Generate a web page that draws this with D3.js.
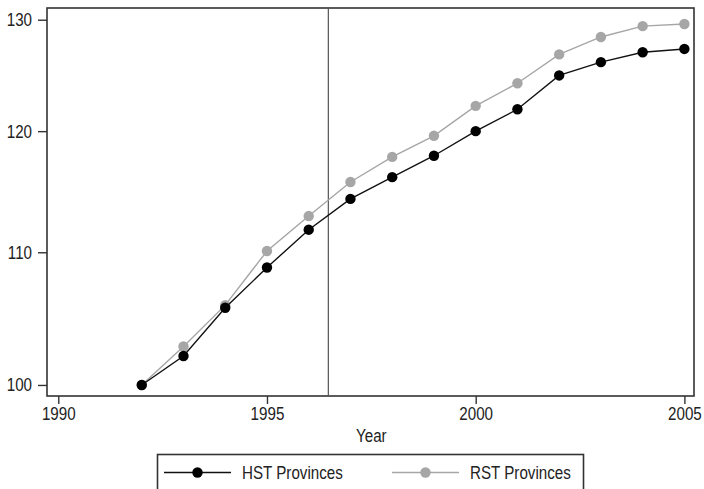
<!DOCTYPE html>
<html lang="en">
<head>
<meta charset="utf-8">
<title>HST vs RST Provinces</title>
<script src="https://d3js.org/d3.v7.min.js"></script>
<style>
  body { margin: 0; background: #fff; }
  svg text { font-family: "Liberation Sans", Arial, sans-serif; fill: #222; }
  .axis path, .axis line { stroke: #333; }
</style>
</head>
<body>
<div id="chart"></div>
<script>
// values (index, 1992 = 100)
var years = [1992, 1993, 1994, 1995, 1996, 1997, 1998, 1999, 2000, 2001, 2002, 2003, 2004, 2005];
var hst = [100, 102.1, 105.7, 108.8, 111.8, 114.3, 116.1, 117.9, 120.0, 121.9, 124.9, 126.1, 127.0, 127.3];
var rst = [100, 102.8, 105.9, 110.1, 112.9, 115.7, 117.8, 119.6, 122.2, 124.2, 126.8, 128.4, 129.4, 129.6];
var xTicks = [1990, 1995, 2000, 2005];
var yTicks = [100, 110, 120, 130];
var markYear = 1996.47;
var seriesNames = ["HST Provinces", "RST Provinces"];

var W = 704, H = 489;
var frame = { left: 47, top: 8, right: 694, bottom: 396 };
var fs = "18.5px";

// the original type is a narrow grotesque: squeeze Liberation Sans horizontally
function narrow(sel) {
  sel.each(function() {
    var t = d3.select(this);
    var tx = +t.attr("x") || 0;
    t.attr("x", 0).attr("transform", "translate(" + tx + ",0) scale(0.82,1)");
  });
}

var svg = d3.select("#chart").append("svg")
    .attr("width", W).attr("height", H);

var x = d3.scaleLinear().domain([1989.73, 2005.23]).range([frame.left, frame.right]);
var y = d3.scaleLog().domain([99.21, 131.1]).range([frame.bottom, frame.top]);

// frame
svg.append("rect")
    .attr("x", frame.left).attr("y", frame.top)
    .attr("width", frame.right - frame.left)
    .attr("height", frame.bottom - frame.top)
    .attr("fill", "none").attr("stroke", "#333").attr("stroke-width", 1.6);

// axes
var yAxis = svg.append("g").attr("class", "axis")
    .attr("transform", "translate(" + frame.left + ",0)")
    .call(d3.axisLeft(y).tickValues(yTicks).tickFormat(d3.format("d")).tickSize(9).tickPadding(6));
yAxis.select(".domain").remove();
yAxis.selectAll("line").attr("stroke-width", 1.4);
yAxis.selectAll("text").style("font-size", fs).call(narrow);

var xAxis = svg.append("g").attr("class", "axis")
    .attr("transform", "translate(0," + frame.bottom + ")")
    .call(d3.axisBottom(x).tickValues(xTicks).tickFormat(d3.format("d")).tickSize(8).tickPadding(3));
xAxis.select(".domain").remove();
xAxis.selectAll("line").attr("stroke-width", 1.4);
xAxis.selectAll("text").style("font-size", fs).call(narrow);

svg.append("text")
    .attr("x", (x(1990) + x(2005)) / 2).attr("y", 442)
    .attr("text-anchor", "middle")
    .style("font-size", fs)
    .text("Year")
    .call(narrow);

// reference line
svg.append("line")
    .attr("x1", x(markYear)).attr("x2", x(markYear))
    .attr("y1", frame.top).attr("y2", frame.bottom)
    .attr("stroke", "#555").attr("stroke-width", 1.2);

var series = [
  { name: seriesNames[1], values: rst, color: "#a6a6a6", lineColor: "#a6a6a6" },
  { name: seriesNames[0], values: hst, color: "#000", lineColor: "#111" }
];

var line = d3.line().x(function(d, i){ return x(years[i]); }).y(function(d){ return y(d); });

series.forEach(function(s) {
  svg.append("path")
      .datum(s.values)
      .attr("d", line)
      .attr("fill", "none")
      .attr("stroke", s.lineColor)
      .attr("stroke-width", 1.4);
  svg.selectAll(null)
      .data(s.values)
      .enter().append("circle")
      .attr("cx", function(d, i){ return x(years[i]); })
      .attr("cy", function(d){ return y(d); })
      .attr("r", 5.2)
      .attr("fill", s.color);
});

// legend
var lg = svg.append("g");
lg.append("rect")
    .attr("x", 157.5).attr("y", 454.5)
    .attr("width", 426).attr("height", 50)
    .attr("fill", "#fff").attr("stroke", "#333").attr("stroke-width", 1.6);

var items = [
  { name: seriesNames[0], color: "#000", lineColor: "#111", x0: 164 },
  { name: seriesNames[1], color: "#a6a6a6", lineColor: "#a6a6a6", x0: 392 }
];
items.forEach(function(it) {
  lg.append("line")
      .attr("x1", it.x0).attr("x2", it.x0 + 67)
      .attr("y1", 472.5).attr("y2", 472.5)
      .attr("stroke", it.lineColor).attr("stroke-width", 1.4);
  lg.append("circle")
      .attr("cx", it.x0 + 33.5).attr("cy", 472.5).attr("r", 5.2)
      .attr("fill", it.color);
  lg.append("text")
      .attr("x", it.x0 + 78).attr("y", 479)
      .style("font-size", fs)
      .text(it.name)
      .call(narrow);
});
</script>
</body>
</html>
